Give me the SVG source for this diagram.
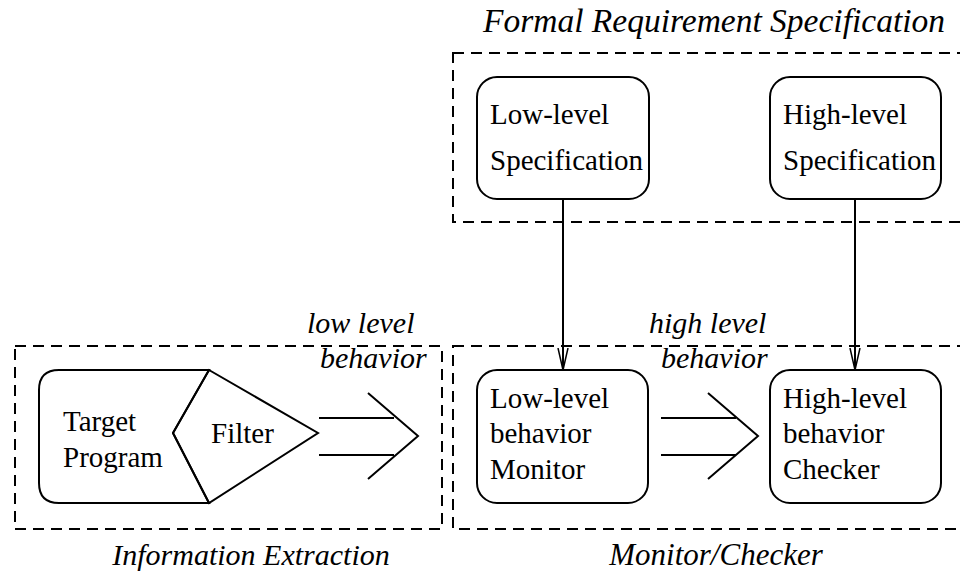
<svg xmlns="http://www.w3.org/2000/svg" width="960" height="585" viewBox="0 0 960 585">
<defs>
<style>
.bg{fill:#fff}
.dash{fill:none;stroke:#000;stroke-width:2;stroke-dasharray:11 7}
.box{fill:none;stroke:#000;stroke-width:2}
.ln{fill:none;stroke:#000;stroke-width:2;stroke-linejoin:miter}
.t{font-family:"Liberation Serif","Times New Roman",serif;font-size:29px;fill:#000}
.i{font-family:"Liberation Serif","Times New Roman",serif;font-style:italic;font-size:30px;fill:#000}
</style>
<marker id="arr" markerWidth="24" markerHeight="12" refX="22" refY="6" orient="auto" markerUnits="userSpaceOnUse" viewBox="0 0 24 12">
<path d="M0 1 L22 6 L0 11" fill="none" stroke="#000" stroke-width="1.5"/>
</marker>
</defs>
<rect class="bg" width="960" height="585"/>

<g id="group-formal">
<rect class="dash" x="453" y="53" width="520" height="169"/>
<text class="i" x="714" y="32" text-anchor="middle" style="font-size:33.5px">Formal Requirement Specification</text>
</g>
<g id="group-extraction">
<rect class="dash" x="15" y="346" width="427" height="183"/>
<text class="i" x="251" y="565" text-anchor="middle">Information Extraction</text>
</g>
<g id="group-monitor">
<rect class="dash" x="453" y="346" width="520" height="183"/>
<text class="i" x="716" y="565" text-anchor="middle" style="font-size:31px">Monitor/Checker</text>
</g>

<g id="low-spec">
<rect class="box" x="477" y="77" width="172" height="122" rx="20"/>
<text class="t" x="490" y="124">Low-level</text>
<text class="t" x="490" y="170">Specification</text>
</g>
<g id="high-spec">
<rect class="box" x="770" y="77" width="171" height="122" rx="20"/>
<text class="t" x="783" y="124">High-level</text>
<text class="t" x="783" y="170">Specification</text>
</g>

<g id="target-program">
<path class="ln" d="M209 370 L59 370 Q39 370 39 390 L39 483 Q39 503 59 503 L209 503 L173 433 Z"/>
<text class="t" x="63" y="431">Target</text>
<text class="t" x="63" y="467">Program</text>
</g>
<g id="filter">
<path class="ln" d="M209 370 L318 433 L209 503 L173 433 Z"/>
<text class="t" x="211" y="443">Filter</text>
</g>

<g id="monitor">
<rect class="box" x="477" y="370" width="171" height="133" rx="20"/>
<text class="t" x="490" y="408">Low-level</text>
<text class="t" x="490" y="443">behavior</text>
<text class="t" x="490" y="479">Monitor</text>
</g>
<g id="checker">
<rect class="box" x="770" y="370" width="171" height="133" rx="20"/>
<text class="t" x="783" y="408">High-level</text>
<text class="t" x="783" y="443">behavior</text>
<text class="t" x="783" y="479">Checker</text>
</g>

<g id="connectors">
<line class="ln" x1="563" y1="199" x2="563" y2="370" marker-end="url(#arr)"/>
<line class="ln" x1="855" y1="199" x2="855" y2="370" marker-end="url(#arr)"/>
<g id="low-flow">
<line class="ln" x1="319" y1="418" x2="394" y2="418"/>
<line class="ln" x1="319" y1="455" x2="394" y2="455"/>
<path class="ln" d="M368 393 L418 436 L368 479"/>
<text class="i" x="307" y="333">low level</text>
<text class="i" x="320" y="368">behavior</text>
</g>
<g id="high-flow">
<line class="ln" x1="661" y1="418" x2="736" y2="418"/>
<line class="ln" x1="661" y1="455" x2="736" y2="455"/>
<path class="ln" d="M708 393 L758 436 L708 479"/>
<text class="i" x="649" y="333">high level</text>
<text class="i" x="661" y="368">behavior</text>
</g>
</g>
</svg>
